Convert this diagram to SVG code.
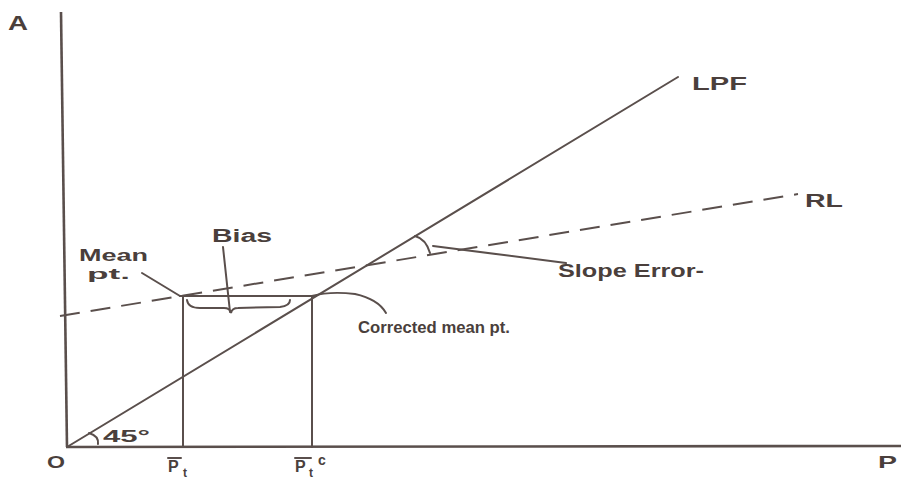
<svg xmlns="http://www.w3.org/2000/svg" width="901" height="482" viewBox="0 0 901 482">
<style>
.ln{stroke:#5a4f4c;stroke-width:2;fill:none;stroke-linecap:round}
.ax{stroke:#5a4f4c;stroke-width:2.6;fill:none}
.dash{stroke:#5a4f4c;stroke-width:2;fill:none;stroke-dasharray:20 11}
.t{font-family:"Liberation Sans",Arial,sans-serif;fill:#4a3f3c;font-weight:bold}
</style>
<rect width="901" height="482" fill="#ffffff"/>
<g id="axes">
<line class="ax" x1="61" y1="12" x2="67" y2="447"/>
<line class="ax" x1="66" y1="447" x2="901" y2="446"/>
<text class="t" x="8" y="30" font-size="20" textLength="20" lengthAdjust="spacingAndGlyphs">A</text>
<text class="t" x="47" y="468" font-size="17" textLength="18" lengthAdjust="spacingAndGlyphs">O</text>
<text class="t" x="878" y="468" font-size="17" textLength="19" lengthAdjust="spacingAndGlyphs">P</text>
</g>
<g id="connectors">
<line class="ln" x1="67" y1="447" x2="678" y2="77"/>
<line class="dash" x1="60" y1="316" x2="798" y2="194"/>
<line class="ln" x1="183" y1="296" x2="183" y2="447"/>
<line class="ln" x1="312" y1="296" x2="312" y2="447"/>
<line class="ln" x1="180" y1="296" x2="316" y2="296"/>
<line class="ln" x1="142" y1="273" x2="180" y2="296"/>
<line class="ln" x1="223" y1="247" x2="230" y2="312"/>
<path class="ln" d="M187,300 Q188,308 200,308 L224,308 Q230,308 231,313 Q232,308 238,308 L280,307 Q290,306 290,300"/>
<path class="ln" d="M312,296 Q330,291 355,294 Q378,299 386,313"/>
<path class="ln" d="M415,236 Q426,239 430,253"/>
<line class="ln" x1="433" y1="246" x2="566" y2="263"/>
<path class="ln" d="M89,433 Q99,436 98,444"/>
<line class="ln" x1="168" y1="458" x2="181" y2="458"/>
<line class="ln" x1="295" y1="458" x2="311" y2="458"/>
</g>
<g id="LPF"><text class="t" x="692" y="90" font-size="19" textLength="55" lengthAdjust="spacingAndGlyphs">LPF</text></g>
<g id="RL"><text class="t" x="805" y="207" font-size="19" textLength="38" lengthAdjust="spacingAndGlyphs">RL</text></g>
<g id="bias"><text class="t" x="212" y="242" font-size="18" textLength="60" lengthAdjust="spacingAndGlyphs">Bias</text></g>
<g id="mean-pt">
<text class="t" x="79" y="261" font-size="16" textLength="69" lengthAdjust="spacingAndGlyphs">Mean</text>
<text class="t" x="87" y="279" font-size="14" textLength="43" lengthAdjust="spacingAndGlyphs">pt.</text>
</g>
<g id="slope-error"><text class="t" x="558" y="277" font-size="19" textLength="146" lengthAdjust="spacingAndGlyphs">Slope Error-</text></g>
<g id="corrected-mean-pt"><text class="t" x="358" y="333" font-size="17" textLength="152" lengthAdjust="spacingAndGlyphs">Corrected mean pt.</text></g>
<g id="angle"><text class="t" x="103" y="442" font-size="16" textLength="47" lengthAdjust="spacingAndGlyphs">45°</text></g>
<g id="pt-bar">
<text class="t" x="168" y="472" font-size="16">P</text>
<text class="t" x="183" y="477" font-size="12">t</text>
</g>
<g id="pt-c">
<text class="t" x="295" y="472" font-size="16">P</text>
<text class="t" x="309" y="477" font-size="12">t</text>
<text class="t" x="318" y="465" font-size="14">c</text>
</g>
</svg>
